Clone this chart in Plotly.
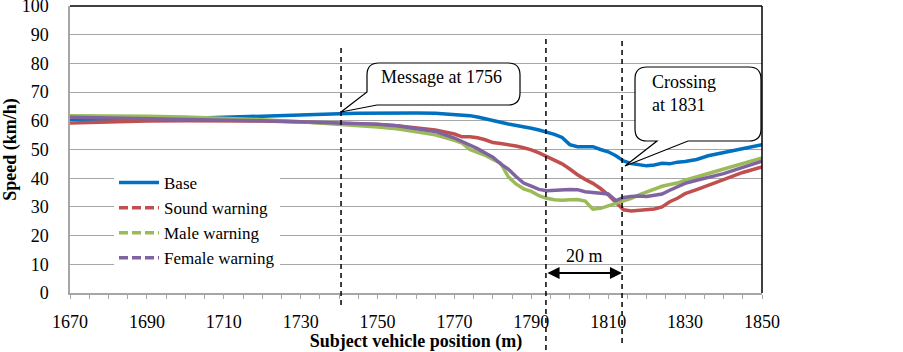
import plotly.graph_objects as go

# ---- data ----
position = [1670, 1680, 1690, 1700, 1710, 1720, 1730, 1740, 1745, 1750, 1755, 1760, 1765,
            1770, 1772, 1774, 1776, 1778, 1780, 1782, 1784, 1786, 1788, 1790, 1792, 1794,
            1796, 1798, 1800, 1802, 1804, 1806, 1808, 1810, 1812, 1814, 1816, 1818, 1820,
            1822, 1824, 1826, 1828, 1830, 1833, 1836, 1840, 1845, 1850]

base = [60.5, 60.6, 60.7, 60.8, 61.2, 61.7, 62.1, 62.5, 62.6, 62.7, 62.7, 62.7, 62.6,
        62.3, 62.1, 61.8, 61.3, 60.8, 60.2, 59.5, 58.9, 58.5, 58.0, 57.4, 56.8, 56.2,
        55.3, 54.2, 51.7, 51.0, 51.0, 51.0, 50.0, 49.2, 47.8, 46.0, 45.1, 44.8, 44.3,
        44.6, 45.2, 45.0, 45.6, 45.8, 46.5, 47.8, 49.0, 50.4, 51.7]

sound = [59.2, 59.6, 59.9, 60.0, 60.0, 59.9, 59.6, 59.3, 59.0, 58.7, 58.3, 57.6, 56.8,
         55.4, 54.4, 54.4, 54.1, 53.4, 52.4, 52.1, 51.8, 51.2, 50.6, 49.9, 48.8, 47.6,
         46.3, 45.0, 43.2, 41.2, 39.6, 38.2, 36.4, 34.2, 31.5, 29.0, 28.6, 28.8, 29.1,
         29.3, 30.0, 31.8, 33.0, 34.6, 36.0, 37.4, 39.5, 42.0, 43.9]

male = [61.8, 61.8, 61.6, 61.3, 60.9, 60.4, 59.7, 58.9, 58.4, 57.8, 57.2, 56.3, 55.1,
        53.2, 52.2, 50.0, 49.0, 48.0, 46.5, 45.3, 40.5, 38.0, 36.3, 35.4, 33.9, 33.0,
        32.5, 32.3, 32.5, 32.6, 32.0, 29.2, 29.5, 30.3, 31.1, 32.0, 33.0, 34.2, 35.2,
        36.2, 37.2, 37.8, 38.3, 39.3, 40.5, 41.7, 43.3, 45.2, 47.1]

female = [61.2, 61.0, 60.8, 60.6, 60.3, 60.0, 59.7, 59.4, 59.1, 58.8, 58.3, 57.4, 56.3,
          54.0, 52.8, 51.5, 50.3, 48.8, 47.3, 45.0, 43.2, 40.6, 38.3, 37.2, 36.1, 35.6,
          35.8, 35.8, 36.1, 36.0, 35.3, 35.0, 34.9, 34.5, 32.2, 33.3, 33.6, 33.8, 33.6,
          34.2, 34.5, 35.8, 37.0, 38.2, 39.3, 40.2, 41.6, 43.8, 45.9]

series_names = ["Base", "Sound warning", "Male warning", "Female warning"]
series_colors = ["#0070C0", "#C0504D", "#9BBB59", "#8064A2"]
x_tick_values = [1670, 1690, 1710, 1730, 1750, 1770, 1790, 1810, 1830, 1850]
y_tick_values = [0, 10, 20, 30, 40, 50, 60, 70, 80, 90, 100]

message_pos = 1740.5
window_start = 1793.8
crossing_pos = 1813.6

# ---- layout geometry (pixels) ----
W, H = 903, 352
L, R, T, B = 70, 762, 6, 293
X0, X1, Y0, Y1 = 1670, 1850, 0, 100


def dx(px):
    return X0 + (px - L) / (R - L) * (X1 - X0)


def dy(py):
    return Y0 + (B - py) / (B - T) * (Y1 - Y0)


def py_paper(py):
    return (B - py) / (B - T)


FONT = "Liberation Serif, Times New Roman, serif"
FS = 18

fig = go.Figure()
for name, vals, col in zip(series_names, [base, sound, male, female], series_colors):
    fig.add_trace(go.Scatter(x=position, y=vals, mode="lines", name=name,
                             line=dict(color=col, width=3.5), showlegend=False,
                             hoverinfo="x+y+name"))
# legend proxies (legend uses dashed symbols for the warning series)
for i, (name, col) in enumerate(zip(series_names, series_colors)):
    fig.add_trace(go.Scatter(x=[None], y=[None], mode="lines", name=name,
                             line=dict(color=col, width=3.5,
                                       dash="solid" if i == 0 else "9px,4px"),
                             showlegend=True))

shapes = []
# top & right borders in black
shapes.append(dict(type="line", xref="paper", yref="paper", x0=0, x1=1, y0=1, y1=1,
                   line=dict(color="black", width=1.5), layer="above"))
shapes.append(dict(type="line", xref="paper", yref="paper", x0=1, x1=1, y0=0, y1=1,
                   line=dict(color="black", width=1.5), layer="above"))
# vertical dashed markers
for xv, ptop, pbot in [(message_pos, 45, 305), (window_start, 35, 350), (crossing_pos, 37, 343)]:
    shapes.append(dict(type="line", xref="x", yref="paper", x0=xv, x1=xv,
                       y0=py_paper(pbot), y1=py_paper(ptop),
                       line=dict(color="black", width=1.5, dash="5px,4px"), layer="above"))


def pt(px, py):
    return f"{dx(px):.4f},{dy(py):.4f}"


def callout_message():
    x0, x1, y0, y1, r = 367, 520, 63, 105, 12
    p = f"M {pt(x0 + r, y0)} L {pt(x1 - r, y0)} Q {pt(x1, y0)} {pt(x1, y0 + r)} "
    p += f"L {pt(x1, y1 - r)} Q {pt(x1, y1)} {pt(x1 - r, y1)} "
    p += f"L {pt(x0 + 10, y1)} L {pt(341, 112)} L {pt(x0, 92)} "
    p += f"L {pt(x0, y0 + r)} Q {pt(x0, y0)} {pt(x0 + r, y0)} Z"
    return p


def callout_crossing():
    x0, x1, y0, y1, r = 635, 761, 67, 141, 12
    p = f"M {pt(x0 + r, y0)} L {pt(x1 - r, y0)} Q {pt(x1, y0)} {pt(x1, y0 + r)} "
    p += f"L {pt(x1, y1 - r)} Q {pt(x1, y1)} {pt(x1 - r, y1)} "
    p += f"L {pt(688, y1)} L {pt(625, 166)} L {pt(657, y1)} "
    p += f"L {pt(x0 + r, y1)} Q {pt(x0, y1)} {pt(x0, y1 - r)} "
    p += f"L {pt(x0, y0 + r)} Q {pt(x0, y0)} {pt(x0 + r, y0)} Z"
    return p


for path in [callout_message(), callout_crossing()]:
    shapes.append(dict(type="path", xref="x", yref="y", path=path,
                       fillcolor="white", line=dict(color="black", width=1.2), layer="above"))

annotations = [
    dict(x=dx(441), y=dy(77), xref="x", yref="y", text="Message at 1756", showarrow=False,
         font=dict(family=FONT, size=FS, color="black")),
    dict(x=dx(650), y=dy(93), xref="x", yref="y", text="Crossing<br>at 1831", showarrow=False,
         xanchor="left", align="left", font=dict(family=FONT, size=FS, color="black")),
    dict(x=crossing_pos, y=dy(273), ax=window_start, ay=dy(273), xref="x", yref="y",
         axref="x", ayref="y", text="", showarrow=True, arrowhead=2, arrowside="end+start",
         arrowsize=1.1, arrowwidth=2.2, arrowcolor="black"),
    dict(x=(window_start + crossing_pos) / 2, y=dy(256), xref="x", yref="y", text="20 m",
         showarrow=False, font=dict(family=FONT, size=FS, color="black")),
]

fig.update_layout(
    width=W, height=H,
    margin=dict(l=L, r=W - R, t=T, b=H - B, autoexpand=False),
    paper_bgcolor="white", plot_bgcolor="white",
    font=dict(family=FONT, size=FS, color="black"),
    shapes=shapes, annotations=annotations,
    legend=dict(x=(114 - L) / (R - L), y=py_paper(165), xanchor="left", yanchor="top",
                bgcolor="white", borderwidth=0, font=dict(family=FONT, size=17, color="black"),
                tracegroupgap=0, itemwidth=40),
    xaxis=dict(range=[X0, X1], tickvals=x_tick_values, showgrid=False, zeroline=False,
               showline=True, linecolor="#A6A6A6", linewidth=1.5,
               ticks="outside", ticklen=4, tickcolor="#A6A6A6", tickwidth=1,
               minor=dict(dtick=5, tick0=1670, ticks="outside", ticklen=4,
                          tickcolor="#A6A6A6", showgrid=False),
               ticklabelstandoff=8, ticklabeloverflow="allow",
               tickfont=dict(family=FONT, size=FS, color="black"),
               title=dict(text="<b>Subject vehicle position (m)</b>", standoff=1,
                          font=dict(family=FONT, size=FS, color="black"))),
    yaxis=dict(range=[Y0, Y1], tickvals=y_tick_values, showgrid=True, gridcolor="#A6A6A6",
               gridwidth=1, zeroline=False, showline=True, linecolor="#A6A6A6", linewidth=1.5,
               ticks="", ticklabelstandoff=16, ticklabeloverflow="allow",
               tickfont=dict(family=FONT, size=FS, color="black"),
               title=dict(text="<b>Speed (km/h)</b>", standoff=1,
                          font=dict(family=FONT, size=FS, color="black"))),
)

fig.write_html("out.html", config={"displayModeBar": False},
               post_script="document.body.style.margin='0';document.body.style.padding='0';")
